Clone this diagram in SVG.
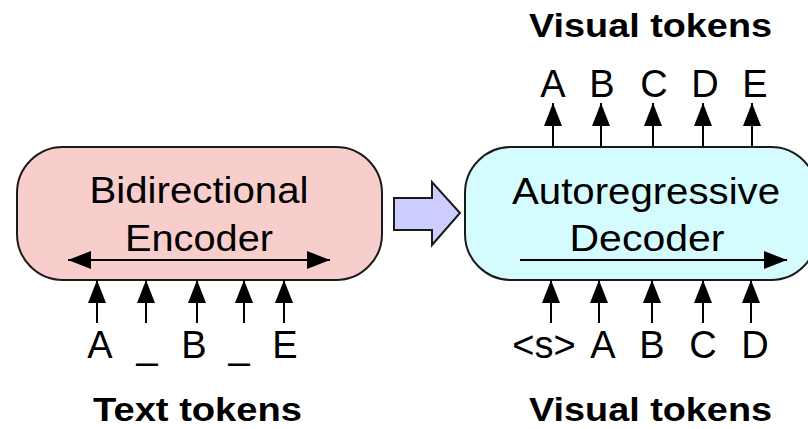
<svg xmlns="http://www.w3.org/2000/svg" width="808" height="429" viewBox="0 0 808 429">
  <style>
    .box { stroke: #1a1a1a; stroke-width: 2; }
    .enc { fill: #f8cecc; }
    .dec { fill: #d4fbfd; }
    .title { font-family: "Liberation Sans", Arial, sans-serif; font-weight: bold; font-size: 34px; fill: #000; }
    .foot { font-size: 33px; }
    .inner { font-family: "Liberation Sans", Arial, sans-serif; font-size: 36px; fill: #000; text-anchor: middle; }
    .tok { font-family: "Liberation Sans", Arial, sans-serif; font-size: 38px; fill: #000; text-anchor: middle; }
    .wire { stroke: #000; stroke-width: 2; fill: none; marker-end: url(#head); }
  </style>
  <defs>
    <marker id="head" markerUnits="userSpaceOnUse" markerWidth="24" markerHeight="18" refX="23" refY="9" orient="auto-start-reverse">
      <path d="M0,0 L23,9 L0,18 Z" fill="#000"/>
    </marker>
  </defs>

  <!-- headings -->
  <text class="title" x="529" y="37" textLength="243" lengthAdjust="spacingAndGlyphs">Visual tokens</text>
  <text class="title foot" x="93" y="421" textLength="209" lengthAdjust="spacingAndGlyphs">Text tokens</text>
  <text class="title foot" x="529" y="421" textLength="243" lengthAdjust="spacingAndGlyphs">Visual tokens</text>

  <!-- encoder -->
  <g id="encoder">
    <rect class="box enc" x="17" y="147" width="365" height="133" rx="46" ry="46"/>
    <text class="inner" x="199" y="203" textLength="219" lengthAdjust="spacingAndGlyphs">Bidirectional</text>
    <text class="inner" x="199" y="251" textLength="148" lengthAdjust="spacingAndGlyphs">Encoder</text>
  </g>

  <!-- decoder -->
  <g id="decoder">
    <rect class="box dec" x="465" y="147" width="352" height="133" rx="46" ry="46"/>
    <text class="inner" x="646" y="204" textLength="268" lengthAdjust="spacingAndGlyphs">Autoregressive</text>
    <text class="inner" x="647" y="251" textLength="155" lengthAdjust="spacingAndGlyphs">Decoder</text>
  </g>

  <!-- block arrow between the two models -->
  <g id="transfer">
    <polygon points="394,198 432,198 432,182 460,213 432,245 432,230 394,230" fill="#ccccff" stroke="#1a1a1a" stroke-width="2" stroke-linejoin="miter"/>
  </g>

  <!-- text token labels -->
  <g id="text-tokens">
    <text class="tok" x="100" y="358">A</text>
    <text class="tok" x="147" y="358">_</text>
    <text class="tok" x="194" y="358">B</text>
    <text class="tok" x="239" y="358">_</text>
    <text class="tok" x="285" y="358">E</text>
  </g>

  <!-- decoder input labels -->
  <g id="decoder-inputs">
    <text class="tok" x="544" y="358">&lt;s&gt;</text>
    <text class="tok" x="603" y="358">A</text>
    <text class="tok" x="652" y="358">B</text>
    <text class="tok" x="703" y="358">C</text>
    <text class="tok" x="755" y="358">D</text>
  </g>

  <!-- decoder output labels -->
  <g id="decoder-outputs">
    <text class="tok" x="553" y="97">A</text>
    <text class="tok" x="602" y="97">B</text>
    <text class="tok" x="654" y="97">C</text>
    <text class="tok" x="705" y="97">D</text>
    <text class="tok" x="755" y="97">E</text>
  </g>

  <!-- connectors -->
  <g id="connectors">
    <!-- attention direction inside the models -->
    <line class="wire" x1="68" y1="260" x2="330" y2="260" style="marker-start: url(#head)"/>
    <line class="wire" x1="520" y1="260" x2="787" y2="260"/>
    <!-- encoder inputs -->
    <line class="wire" x1="97" y1="323" x2="97" y2="280"/>
    <line class="wire" x1="146" y1="323" x2="146" y2="280"/>
    <line class="wire" x1="197" y1="323" x2="197" y2="280"/>
    <line class="wire" x1="244" y1="323" x2="244" y2="280"/>
    <line class="wire" x1="284" y1="323" x2="284" y2="280"/>
    <!-- decoder inputs -->
    <line class="wire" x1="551" y1="323" x2="551" y2="280"/>
    <line class="wire" x1="599" y1="323" x2="599" y2="280"/>
    <line class="wire" x1="652" y1="323" x2="652" y2="280"/>
    <line class="wire" x1="703" y1="323" x2="703" y2="280"/>
    <line class="wire" x1="751" y1="323" x2="751" y2="280"/>
    <!-- decoder outputs -->
    <line class="wire" x1="553" y1="147" x2="553" y2="103"/>
    <line class="wire" x1="601" y1="147" x2="601" y2="103"/>
    <line class="wire" x1="653" y1="147" x2="653" y2="103"/>
    <line class="wire" x1="703" y1="147" x2="703" y2="103"/>
    <line class="wire" x1="752" y1="147" x2="752" y2="103"/>
  </g>
</svg>
